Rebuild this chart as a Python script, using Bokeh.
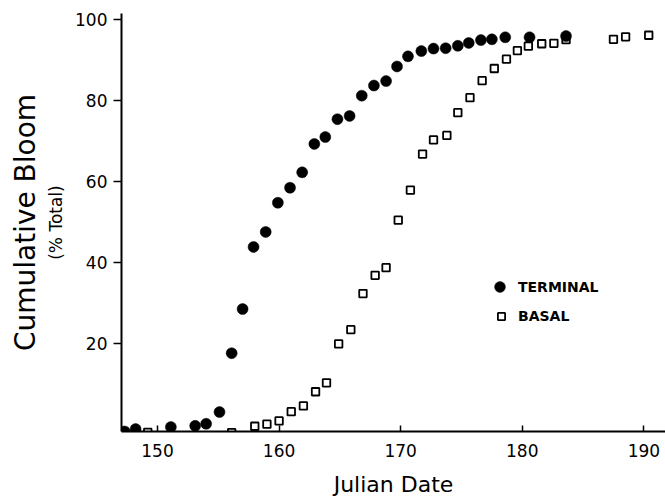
from bokeh.plotting import figure
from bokeh.models import Range1d, FixedTicker, Legend, LegendItem, Title
from bokeh.embed import file_html
from bokeh.resources import INLINE

# Data
term_day = [147.3, 148.2, 151.1, 153.1, 154.0, 155.1, 156.1, 157.0, 157.9, 158.9,
            159.9, 160.9, 161.9, 162.9, 163.8, 164.8, 165.8, 166.8, 167.8, 168.8,
            169.7, 170.6, 171.7, 172.7, 173.7, 174.7, 175.6, 176.6, 177.5, 178.6,
            180.6, 183.6]
term_pct = [-1.6, -1.0, -0.5, -0.2, 0.3, 3.2, 17.7, 28.6, 43.9, 47.6,
            54.8, 58.5, 62.3, 69.3, 71.0, 75.4, 76.2, 81.2, 83.7, 84.8,
            88.4, 90.9, 92.2, 92.8, 92.9, 93.5, 94.2, 94.9, 95.1, 95.6,
            95.6, 95.9]
basal_day = [149.2, 156.1, 158.0, 159.0, 160.0, 161.0, 162.0, 163.0, 163.9, 164.9,
             165.9, 166.9, 167.9, 168.8, 169.8, 170.8, 171.8, 172.7, 173.8, 174.7,
             175.7, 176.7, 177.7, 178.7, 179.6, 180.5, 181.6, 182.6, 183.6, 187.5,
             188.5, 190.4]
basal_pct = [-1.8, -1.9, -0.3, 0.2, 1.0, 3.3, 4.7, 8.2, 10.4, 20.0,
             23.5, 32.4, 36.9, 38.8, 50.5, 57.9, 66.8, 70.3, 71.4, 77.0,
             80.7, 84.9, 87.9, 90.2, 92.3, 93.4, 94.0, 94.1, 95.0, 95.1,
             95.7, 96.1]
x_ticks = [150, 160, 170, 180, 190]
y_ticks = [20, 40, 60, 80, 100]
series_names = ["TERMINAL", "BASAL"]
x_title = "Julian Date"
y_title = "Cumulative Bloom"
y_subtitle = "(% Total)"

FONT = "DejaVu Sans"

p = figure(width=665, height=501, output_backend="svg", toolbar_location=None,
           x_range=Range1d(147.04, 191.78), y_range=Range1d(-1.6, 101.46),
           min_border_left=121, min_border_right=0, min_border_top=13,
           min_border_bottom=70, title=None)
p.outline_line_color = None
p.grid.visible = False
p.background_fill_color = "white"
p.border_fill_color = "white"

r_basal = p.scatter(basal_day, basal_pct, marker="square", size=7.5,
                    fill_color=None, line_color="black", line_width=1.8)
r_term = p.scatter(term_day, term_pct, marker="circle", size=11,
                   fill_color="black", line_color="black", line_width=0.5)

# x axis
xa = p.xaxis[0]
xa.ticker = FixedTicker(ticks=x_ticks)
xa.major_tick_in = 6
xa.major_tick_out = 0
xa.minor_tick_line_color = None
xa.axis_line_width = 2
xa.major_tick_line_width = 1.5
xa.major_label_text_font = FONT
xa.major_label_text_font_size = "17px"
xa.major_label_standoff = 12
xa.major_label_text_color = "black"
xa.axis_label = x_title
xa.axis_label_text_font = FONT
xa.axis_label_text_font_size = "22px"
xa.axis_label_text_font_style = "normal"
xa.axis_label_standoff = 12
xa.axis_label_text_color = "black"

# y axis
ya = p.yaxis[0]
ya.ticker = FixedTicker(ticks=y_ticks)
ya.major_tick_in = 0
ya.major_tick_out = 8
ya.minor_tick_line_color = None
ya.axis_line_width = 2
ya.major_tick_line_width = 1.5
ya.major_label_text_font = FONT
ya.major_label_text_font_size = "17px"
ya.major_label_standoff = 6
ya.major_label_text_color = "black"
ya.axis_label = y_subtitle
ya.axis_label_text_font = FONT
ya.axis_label_text_font_size = "17px"
ya.axis_label_text_font_style = "normal"
ya.axis_label_standoff = 6
ya.axis_label_text_color = "black"

p.add_layout(Title(text=y_title, align="center", text_font=FONT,
                   text_font_size="28px", text_font_style="normal",
                   text_color="black", standoff=3), "left")

leg1 = Legend(items=[LegendItem(label=series_names[0], renderers=[r_term])],
              location=(365, 131), padding=0, margin=0, border_line_color=None,
              background_fill_alpha=0, glyph_width=27, glyph_height=27,
              label_height=20, label_standoff=5, label_text_font=FONT,
              label_text_font_size="14px", label_text_font_style="bold",
              label_text_color="black")
leg2 = Legend(items=[LegendItem(label=series_names[1], renderers=[r_basal])],
              location=(371, 106), padding=0, margin=0, border_line_color=None,
              background_fill_alpha=0, glyph_width=18, glyph_height=18,
              label_height=18, label_standoff=8, label_text_font=FONT,
              label_text_font_size="14px", label_text_font_style="bold",
              label_text_color="black")
p.add_layout(leg1, "center")
p.add_layout(leg2, "center")

open("out.html", "w").write(file_html(p, INLINE))
